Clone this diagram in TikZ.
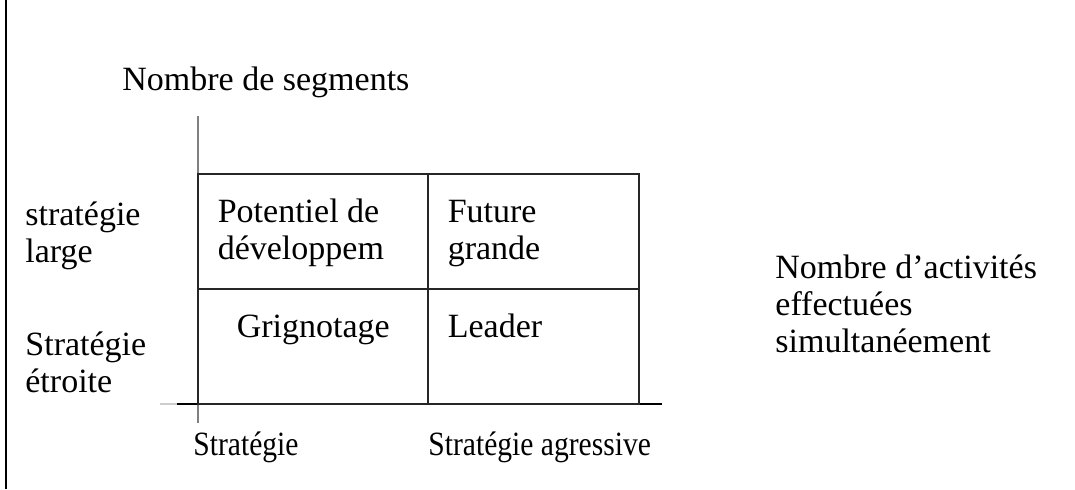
\documentclass[tikz,border=0pt]{standalone}
\usepackage{fontspec}
\setmainfont{Liberation Serif}
\newfontfamily\narrowfont{Liberation Serif}[FakeStretch=0.87]
\usetikzlibrary{positioning}

\begin{document}
\begin{tikzpicture}[
x=0.5pt, y=-0.5pt,
every node/.style={font=\fontsize{17pt}{18.5pt}\selectfont},
label/.style={
anchor=base west,
inner sep=0 pt,
align=left,
},
cell/.style={
draw=black!85,
line width=0.6 pt,
minimum height=57.5 pt,
inner sep=0 pt,
},
axis/.style={line width=0.9 pt, black!50},
]
\useasboundingbox (0,0) rectangle (1075,489);

% frame edge
\draw[line width=1 pt] (6,0) -- (6,489);

% axes
\path
(198,116) coordinate(ytop)
(198,423) coordinate(ybot)
(160,404) coordinate(xstub)
(177,404) coordinate(xl)
(662,404) coordinate(xr)
;
\draw[axis] (ytop) -- (ybot);
\draw[black!20, line width=0.6 pt] (xstub) -- (xl);
\draw[line width=0.6 pt] (xl) -- (xr);

% matrix cells
\node [cell, minimum width=115 pt] at (313,231.5) (pot) {};
\node [cell, minimum width=105.5 pt] at (533.5,231.5) (fut) {};
\node [cell, minimum width=115 pt] at (313,346.5) (gri) {};
\node [cell, minimum width=105.5 pt] at (533.5,346.5) (lea) {};

% cell texts (base = last line)
\path[every node/.append style={label}]
([shift={(20,86)}]pot.north west) node (tpot) {Potentiel de\\développem}
([shift={(20,86)}]fut.north west) node (tfut) {Future\\grande}
([shift={(39,49)}]gri.north west) node (tgri) {Grignotage}
([shift={(20,49)}]lea.north west) node (tlea) {Leader}
;

% axis labels
\path[every node/.append style={label}]
(122,90) node (segments) {Nombre de segments}
(25,262) node (large) {stratégie\\large}
(25,392) node (etroite) {Stratégie\\étroite}
(775,352) node (activites) {Nombre d’activités\\effectuées\\simultanéement}
(193,455) node[font=\fontsize{17pt}{18.5pt}\narrowfont] (strat) {Stratégie}
(428,455) node[font=\fontsize{17pt}{18.5pt}\narrowfont] (agressive) {Stratégie agressive}
;

\end{tikzpicture}
\end{document}
